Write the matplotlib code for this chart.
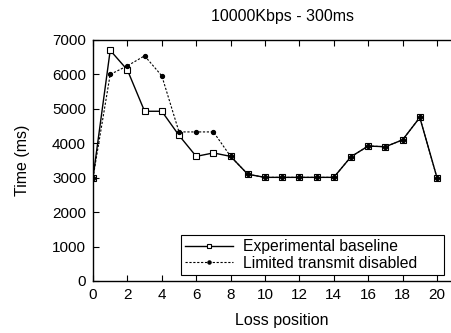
import matplotlib
matplotlib.use("Agg")
import matplotlib.pyplot as plt
from matplotlib.patches import Rectangle

plt.rcParams['font.family'] = ['Liberation Sans', 'DejaVu Sans']

positions = list(range(21))
baseline = [3000, 6700, 6130, 4930, 4930, 4230, 3620, 3720, 3620, 3100, 3010, 3010, 3010, 3010, 3010, 3610, 3920, 3900, 4100, 4750, 3000]
limited = [3000, 6000, 6250, 6540, 5960, 4330, 4330, 4330, 3620, 3100, 3010, 3010, 3010, 3010, 3010, 3610, 3920, 3900, 4100, 4750, 3000]
xticks = list(range(0, 21, 2))
yticks = list(range(0, 7001, 1000))

W, H = 452, 333
fig = plt.figure(figsize=(W/100, H/100), dpi=100)
left, top, bottom = 93, 40, 281
unit = 17.2
right = left + 22 * unit
ax = fig.add_axes([left/W, 1 - bottom/H, (right-left)/W, (bottom-top)/H])

ax.plot(positions, baseline, color='black', lw=1.0, marker='s', ms=3.8,
        mfc='white', mec='black', mew=0.8, label='Experimental baseline')
ax.plot(positions, limited, color='black', lw=0.8, ls=(0, (2, 1.5)), marker='o', ms=2.8,
        mfc='black', mec='black', label='Limited transmit disabled')

ax.set_xlim(0, 22)
ax.set_ylim(0, 7000)
ax.set_xticks(xticks)
ax.set_yticks(yticks)
ax.tick_params(direction='in', top=True, right=True, labelsize=11, length=4, pad=5)
for s in ax.spines.values():
    s.set_linewidth(1.0)

ax.set_title('10000Kbps - 300ms', fontsize=11.5, pad=13.5)
ax.set_xlabel('Loss position', fontsize=11.5, labelpad=8)
ax.set_ylabel('Time (ms)', fontsize=11.5, labelpad=16)

leg = ax.legend(loc='center left', bbox_to_anchor=(185/W, 1 - 255/H), bbox_transform=fig.transFigure,
                fontsize=11.3, frameon=False, handlelength=3.05, borderpad=0, labelspacing=0.12,
                handletextpad=0.62, borderaxespad=0, markerscale=0.8)
leg.set_zorder(6)
frame = Rectangle((181/W, 1 - 275/H), (444-181)/W, 40/H, transform=fig.transFigure,
                  fill=True, facecolor='white', edgecolor='black', lw=0.8, zorder=5)
ax.add_patch(frame)

fig.savefig('out.png', dpi=100)
